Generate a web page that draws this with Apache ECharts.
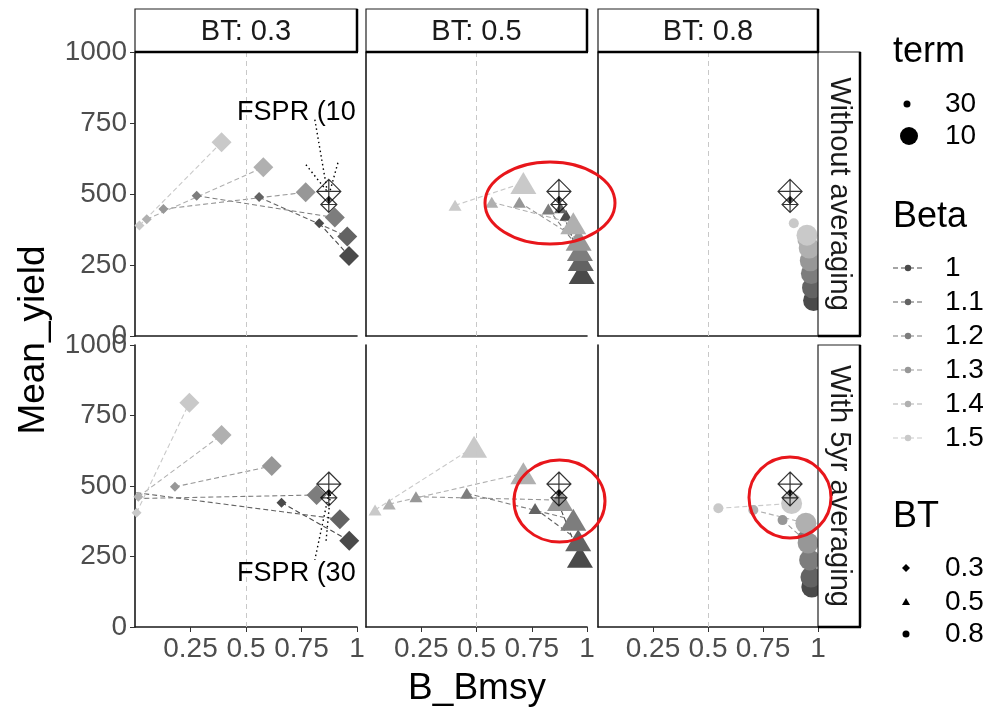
<!DOCTYPE html>
<html><head><meta charset="utf-8">
<script src="https://cdn.jsdelivr.net/npm/echarts@6/dist/echarts.min.js"></script>
<style>html,body{margin:0;padding:0;background:#fff}#c{width:999px;height:707px}</style>
</head><body><div id="c"></div>
<script>
// ---------- data ----------
const betaLevels = ['1','1.1','1.2','1.3','1.4','1.5'];
const termLevels = ['30','10'];
const btLevels = ['0.3','0.5','0.8'];
const averagingLevels = ['Without averaging','With 5yr averaging'];
const xTickValues = [0.25,0.5,0.75,1];
const yTickValues = [0,250,500,750,1000];
const refLineX = 0.5;

// [B_Bmsy, Mean_yield], one pair per Beta (1 ... 1.5)
const bt03WithoutTerm10 = [[0.964,282],[0.956,350],[0.90,417],[0.769,506],[0.578,594],[0.39,682]];
const bt03WithoutTerm30 = [[0.83,397],[0.559,489],[0.278,494],[0.128,447],[0.053,411],[0.02,389]];
const bt05WithoutTerm10 = [[0.976,222],[0.972,268],[0.968,303],[0.962,339],[0.938,397],[0.712,539]];
const bt05WithoutTerm30 = [[0.905,425],[0.88,452],[0.825,447],[0.694,471],[0.569,471],[0.403,460]];
const bt08WithoutTerm10 = [[0.98,125],[0.975,170],[0.97,220],[0.965,265],[0.96,310],[0.95,355]];
const bt08WithoutTerm30 = [[0.975,150],[0.97,195],[0.96,245],[0.95,290],[0.93,335],[0.89,397]];
const bt03WithTerm10 = [[0.965,306],[0.923,382],[0.818,468],[0.616,571],[0.39,681],[0.245,795]];
const bt03WithTerm30 = [[0.66,441],[-0.03,480],[-0.03,455],[0.18,497],[0.015,462],[0.007,405]];
const bt05WithTerm10 = [[0.968,249],[0.96,308],[0.938,380],[0.878,450],[0.712,545],[0.489,639]];
const bt05WithTerm30 = [[0.87,440],[0.765,420],[0.456,474],[0.226,462],[0.105,436],[0.041,415]];
const bt08WithTerm10 = [[0.972,142],[0.968,177],[0.962,238],[0.955,298],[0.945,368],[0.88,438]];
const bt08WithTerm30 = [[0.96,190],[0.95,250],[0.93,320],[0.839,379],[0.706,415],[0.547,421]];

// FSPR reference points [B_Bmsy, Mean_yield]: term 10, term 30, centre dot
const fsprWithout = [[0.873,509],[0.873,463],[0.873,480]];
const fsprWith = [[0.873,507],[0.873,458],[0.873,478]];
const fsprLabelWithout = 'FSPR (10';
const fsprLabelWith = 'FSPR (30';
const fsprLabelAnchorWithout = [0.46,787];
const fsprLabelAnchorWith = [0.46,191];
const fsprSegmentsWithout = [[[0.81,762],[0.866,509]],[[0.77,603],[0.866,509]],[[0.914,610],[0.878,509]]];
const fsprSegmentsWith = [[[0.874,475],[0.81,238]],[[0.88,470],[0.86,300]]];

// ---------- layout / style ----------
const FONT = 'Liberation Sans, Arial, sans-serif';
const cols = [{left:135,width:222},{left:366,width:221},{left:598,width:220}];
const rows = [{top:52,height:284},{top:345,height:282}];
const betaColors = ['#4a4a4a','#636363','#7d7d7d','#979797','#b0b0b0','#c9c9c9'];
const shapeByBT = {'0.3':'diamond','0.5':'triangle','0.8':'circle'};
const sizeByBT = {
  '0.3': {10:20, 30:10},
  '0.5': {10:[26,22], 30:[13,11]},
  '0.8': {10:21, 30:10}
};
const fsprSymbol = 'path://M10,0 L20,10 L10,20 L0,10 Z M10,0 L10,20 M0,10 L20,10';

const panels = [
  {row:0,col:0,t10:bt03WithoutTerm10,t30:bt03WithoutTerm30},
  {row:0,col:1,t10:bt05WithoutTerm10,t30:bt05WithoutTerm30},
  {row:0,col:2,t10:bt08WithoutTerm10,t30:bt08WithoutTerm30},
  {row:1,col:0,t10:bt03WithTerm10,t30:bt03WithTerm30},
  {row:1,col:1,t10:bt05WithTerm10,t30:bt05WithTerm30},
  {row:1,col:2,t10:bt08WithTerm10,t30:bt08WithTerm30}
];

const grids=[], xAxes=[], yAxes=[], series=[];
panels.forEach((p,g)=>{
  const c = cols[p.col], r = rows[p.row];
  grids.push({left:c.left, top:r.top, width:c.width, height:r.height, containLabel:false});
  const bottom = p.row===1, leftCol = p.col===0;
  xAxes.push({gridIndex:g, type:'value', min:0, max:1, interval:0.25,
    axisLine:{show:true, onZero:false, lineStyle:{color:'#1a1a1a', width:1.6}},
    axisTick:{show:bottom, customValues:xTickValues, length:5, lineStyle:{color:'#333', width:1}},
    axisLabel:{show:bottom, customValues:xTickValues, formatter:v=>String(v), fontSize:28, fontFamily:FONT, color:'#4d4d4d', margin:8},
    splitLine:{show:false}});
  yAxes.push({gridIndex:g, type:'value', min:0, max:1000, interval:250,
    axisLine:{show:true, onZero:false, lineStyle:{color:'#1a1a1a', width:1.6}},
    axisTick:{show:leftCol, length:5, lineStyle:{color:'#333', width:1}},
    axisLabel:{show:leftCol, customValues:yTickValues, formatter:v=>String(v), fontSize:28, fontFamily:FONT, color:'#4d4d4d', margin:8},
    splitLine:{show:false}});
  // reference line
  series.push({type:'scatter', xAxisIndex:g, yAxisIndex:g, data:[], silent:true,
    markLine:{silent:true, symbol:['none','none'], label:{show:false}, animation:false,
      lineStyle:{color:'#c8c8c8', type:[5,4], width:1}, data:[{xAxis:refLineX}]}});
  const bt = btLevels[p.col];
  betaLevels.forEach((b,i)=>{
    series.push({type:'line', xAxisIndex:g, yAxisIndex:g, symbol:'none', z:2, clip:true,
      data:[p.t30[i], p.t10[i]], lineStyle:{color:betaColors[i], type:[5,3], width:1.1}, silent:true});
  });
  betaLevels.forEach((b,i)=>{
    series.push({type:'scatter', xAxisIndex:g, yAxisIndex:g, z:3, clip:true, symbol:shapeByBT[bt],
      symbolSize:v=>sizeByBT[bt][v[2]],
      itemStyle:{color:betaColors[i], opacity:1},
      data:[[p.t30[i][0],p.t30[i][1],30],[p.t10[i][0],p.t10[i][1],10]]});
  });
  const fs = p.row===0 ? fsprWithout : fsprWith;
  series.push({type:'scatter', xAxisIndex:g, yAxisIndex:g, z:5, symbol:fsprSymbol,
    symbolSize:v=>v[2]===10?[24,24]:[16,16],
    itemStyle:{color:'rgba(0,0,0,0)', borderColor:'#000', borderWidth:1.2},
    data:[[fs[0][0],fs[0][1],10],[fs[1][0],fs[1][1],30]]});
  series.push({type:'scatter', xAxisIndex:g, yAxisIndex:g, z:5, symbol:'circle', symbolSize:4,
    itemStyle:{color:'#000'}, data:[fs[2]]});
  if (p.col===0) {
    const segs = p.row===0 ? fsprSegmentsWithout : fsprSegmentsWith;
    segs.forEach(s=>series.push({type:'line', xAxisIndex:g, yAxisIndex:g, symbol:'none', z:4,
      data:s, lineStyle:{color:'#000', type:[1.5,3], width:1.4}, silent:true}));
  }
});

// ---------- graphic: strips, titles, legend, annotations ----------
const graphic = [];
const stripTop = 9, stripBottom = 52;
btLevels.forEach((bt,i)=>{
  const c = cols[i];
  graphic.push({type:'rect', shape:{x:c.left, y:stripTop, width:c.width, height:stripBottom-stripTop},
    style:{fill:'#fff', stroke:'#222', lineWidth:1.2}, z:10});
  graphic.push({type:'line', shape:{x1:c.left+c.width, y1:stripTop, x2:c.left+c.width, y2:stripBottom}, style:{stroke:'#000', lineWidth:2.5}, z:11});
  graphic.push({type:'line', shape:{x1:c.left, y1:stripBottom, x2:c.left+c.width+1, y2:stripBottom}, style:{stroke:'#000', lineWidth:2.5}, z:11});
  graphic.push({type:'text', x:c.left+c.width/2, y:(stripTop+stripBottom)/2+1, z:12,
    style:{text:'BT: '+bt, font:'29px '+FONT, fill:'#1a1a1a', textAlign:'center', textVerticalAlign:'middle', align:'center', verticalAlign:'middle'}});
});
const sx0 = 818, sx1 = 860;
averagingLevels.forEach((a,i)=>{
  const r = rows[i];
  graphic.push({type:'rect', shape:{x:sx0, y:r.top, width:sx1-sx0, height:r.height},
    style:{fill:'#fff', stroke:'#222', lineWidth:1.2}, z:10});
  graphic.push({type:'line', shape:{x1:sx1, y1:r.top, x2:sx1, y2:r.top+r.height}, style:{stroke:'#000', lineWidth:2.5}, z:11});
  graphic.push({type:'line', shape:{x1:sx0, y1:r.top+r.height, x2:sx1+1, y2:r.top+r.height}, style:{stroke:'#000', lineWidth:2.5}, z:11});
  graphic.push({type:'text', x:(sx0+sx1)/2, y:r.top+r.height/2, rotation:-Math.PI/2, z:12,
    style:{text:a, font:'29px '+FONT, fill:'#1a1a1a', textAlign:'center', textVerticalAlign:'middle', align:'center', verticalAlign:'middle'}});
});
// axis titles
graphic.push({type:'text', x:34, y:340, rotation:Math.PI/2, z:12,
  style:{text:'Mean_yield', font:'37px '+FONT, fill:'#000', textAlign:'center', textVerticalAlign:'middle', align:'center', verticalAlign:'middle'}});
graphic.push({type:'text', x:477, y:689, z:12,
  style:{text:'B_Bmsy', font:'37px '+FONT, fill:'#000', textAlign:'center', textVerticalAlign:'middle', align:'center', verticalAlign:'middle'}});

// legend
const LX = 893, KX = 909, TX = 945;
function legText(t,x,y,size){
  return {type:'text', x:x, y:y, z:12, style:{text:t, font:size+'px '+FONT, fill:'#000', textAlign:'left', textVerticalAlign:'middle', align:'left', verticalAlign:'middle'}};
}
graphic.push(legText('term', LX, 52, 36));
const termY = [104,136], termR = [3.5,9];
termLevels.forEach((t,i)=>{
  graphic.push({type:'circle', shape:{cx:KX-2+i*2, cy:termY[i], r:termR[i]}, style:{fill:'#000'}, z:12});
  graphic.push(legText(t, TX, termY[i], 28));
});
graphic.push(legText('Beta', LX, 217, 36));
const betaY = [268,302,336,370,404,438];
betaLevels.forEach((b,i)=>{
  graphic.push({type:'line', shape:{x1:LX, y1:betaY[i], x2:LX+30, y2:betaY[i]}, style:{stroke:betaColors[i], lineWidth:1.1, lineDash:[5,3]}, z:12});
  graphic.push({type:'circle', shape:{cx:KX-1, cy:betaY[i], r:3.2}, style:{fill:betaColors[i]}, z:13});
  graphic.push(legText(b, TX, betaY[i], 28));
});
graphic.push(legText('BT', LX, 517, 36));
const btY = [568,602,634];
graphic.push({type:'polygon', shape:{points:[[906,btY[0]-4],[910,btY[0]],[906,btY[0]+4],[902,btY[0]]]}, style:{fill:'#000'}, z:12});
graphic.push({type:'polygon', shape:{points:[[906,btY[1]-4],[910,btY[1]+3],[902,btY[1]+3]]}, style:{fill:'#000'}, z:12});
graphic.push({type:'circle', shape:{cx:906, cy:btY[2], r:3.5}, style:{fill:'#000'}, z:12});
btLevels.forEach((b,i)=>graphic.push(legText(b, TX, btY[i], 28)));

// red annotation ellipses
[[550,203,65,41],[559.5,501,45.5,41],[790,497.5,41,40.5]].forEach(e=>{
  graphic.push({type:'ellipse', shape:{cx:e[0], cy:e[1], rx:e[2], ry:e[3]}, style:{fill:'none', stroke:'#e8161b', lineWidth:3}, z:20});
});

const chart = echarts.init(document.getElementById('c'), null, {renderer:'canvas'});
chart.setOption({
  animation:false,
  backgroundColor:'#fff',
  grid:grids, xAxis:xAxes, yAxis:yAxes, series:series, graphic:graphic
});
// FSPR labels anchored at data coordinates of the first-column panels
[[0,fsprLabelAnchorWithout,fsprLabelWithout],[3,fsprLabelAnchorWith,fsprLabelWith]].forEach(([g,a,t])=>{
  const px = chart.convertToPixel({gridIndex:g}, a);
  graphic.push({type:'text', x:px[0], y:px[1], z:12,
    style:{text:t, font:'27px '+FONT, fill:'#000', textAlign:'left', textVerticalAlign:'middle', align:'left', verticalAlign:'middle'}});
});
chart.setOption({graphic:graphic});
</script></body></html>
